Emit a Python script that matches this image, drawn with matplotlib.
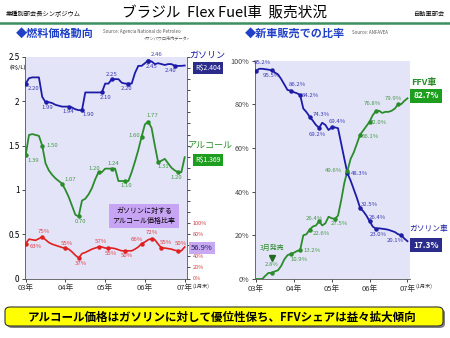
import numpy as np
import matplotlib
matplotlib.use('Agg')
import matplotlib.pyplot as plt
from matplotlib.patches import FancyBboxPatch

plt.rcParams['font.family'] = ['Noto Sans CJK JP', 'DejaVu Sans']

# データ (月: 2003年1月 = 0 ... 2007年1月 = 48)
months = np.arange(49)
year_labels = ['03年', '04年', '05年', '06年', '07年']

gasoline_price = [2.20, 2.26, 2.27, 2.27, 2.27, 2.05, 1.99, 1.99, 1.98, 1.96,
                  1.95, 1.94, 1.94, 1.94, 1.93, 1.91, 1.90, 1.90, 2.10, 2.10,
                  2.10, 2.10, 2.10, 2.10, 2.20, 2.20, 2.25, 2.25, 2.25, 2.21,
                  2.20, 2.20, 2.20, 2.32, 2.40, 2.40, 2.43, 2.46, 2.45, 2.42,
                  2.43, 2.42, 2.41, 2.42, 2.42, 2.40, 2.40, 2.40, 2.404]
alcohol_price = [1.39, 1.62, 1.63, 1.62, 1.61, 1.50, 1.30, 1.22, 1.17, 1.13,
                 1.10, 1.07, 1.00, 0.92, 0.82, 0.72, 0.70, 0.88, 0.90, 0.95,
                 1.02, 1.12, 1.20, 1.20, 1.24, 1.24, 1.24, 1.24, 1.10, 1.10,
                 1.10, 1.10, 1.20, 1.32, 1.45, 1.60, 1.74, 1.77, 1.70, 1.50,
                 1.31, 1.33, 1.35, 1.30, 1.25, 1.22, 1.20, 1.20, 1.369]
price_ratio = [63, 71, 70, 69, 72, 75, 70, 65, 62, 60,
               58, 56, 55, 53, 48, 42, 37, 45, 47, 50,
               53, 55, 57, 57, 55, 55, 55, 54, 52, 50,
               50, 50, 50, 53, 57, 63, 66, 70, 72, 70,
               62, 55, 55, 54, 53, 51, 50, 50, 56.9]

gas_share = [95.2, 96.2, 96.2, 96.0, 95.8, 95.5, 94.5, 93.6, 91.5, 89.0,
             86.5, 86.2, 85.5, 85.0, 84.2, 78.0, 76.4, 74.3, 72.5, 70.5,
             69.2, 71.5, 70.5, 68.2, 69.4, 69.4, 69.0, 62.0, 55.0, 48.3,
             45.0, 41.0, 37.0, 32.5, 31.0, 29.0, 26.4, 24.0, 23.0, 23.2,
             23.0, 22.8, 22.5, 22.0, 21.5, 20.5, 20.1, 18.5, 17.3]
ffv_share = [0, 0, 0, 1.5, 2.8, 2.8, 3.5, 4.0, 6.0, 9.0,
             10.9, 11.5, 12.0, 12.8, 13.2, 20.0, 20.5, 22.6, 24.0, 24.5,
             26.4, 24.5, 25.5, 28.5, 27.8, 27.5, 29.0, 36.0, 44.0, 49.6,
             55.0, 58.0, 62.0, 66.1, 68.0, 70.0, 72.0, 75.0, 76.8, 77.0,
             76.0, 76.5, 76.5, 77.0, 78.0, 79.9, 80.0, 81.5, 82.7]

# ラベル (月, 文字, 位置ずれpx)
gas_labels = [(0, '2.20', 8, -5), (6, '1.99', 2, -5), (13, '1.94', 0, -5),
              (17, '1.90', 6, -4), (23, '2.10', 4, -5), (26, '2.25', 0, 5),
              (31, '2.20', -2, -5), (37, '2.46', 8, 6), (37, '2.45', 3, -6),
              (45, '2.40', -4, -5)]
alc_labels = [(0, '1.39', 8, -5), (5, '1.50', 10, 0), (11, '1.07', 8, 4),
              (16, '0.70', 2, -5), (22, '1.20', -4, 4), (26, '1.24', 2, 5),
              (30, '1.10', 1, -4), (35, '1.60', -7, 1), (37, '1.77', 4, 6),
              (40, '1.31', 5, -4), (46, '1.20', -2, -5)]
ratio_labels = [(0, '63%', 10, -3), (5, '75%', 2, 5), (12, '55%', 2, 5),
                (16, '37%', 2, -5), (22, '57%', 2, 5), (25, '55%', 2, -5),
                (30, '50%', 2, -5), (35, '66%', -5, 4), (38, '72%', 0, 6),
                (41, '55%', 4, 6), (46, '50%', 3, 7)]
gas_share_labels = [(0, '95.2%', 6, 8), (5, '95.5%', 0, -5), (11, '86.2%', 7, 6),
                    (14, '84.2%', 10, 0), (17, '74.3%', 12, 2), (20, '69.2%', -2, -7),
                    (24, '69.4%', 6, 6), (29, '48.3%', 12, 0), (33, '32.5%', 9, 3),
                    (36, '26.4%', 8, 4), (38, '23.0%', 2, -6), (46, '20.1%', -6, -5)]
ffv_labels = [(5, '2.8%', 0, 8), (11, '10.9%', 8, -6), (14, '13.2%', 12, 0),
              (17, '22.6%', 12, -4), (20, '26.4%', -5, 3), (25, '27.5%', 5, -5),
              (29, '49.6%', -14, 0), (33, '66.1%', 10, -2), (36, '72.0%', 9, -1),
              (38, '76.8%', -4, 8), (45, '79.9%', -5, 6)]

W, H = 450, 338
BG = '#E4E4F8'
BLUE = '#1C1CA8'
GREEN = '#2A8C2A'
RED = '#E02020'


def fx(x):
    return x / W


def fy(y):
    return 1 - y / H


def label_points(ax, values, labels, color):
    for m, txt, dx, dy in labels:
        ax.plot(m, values[m], 'o', color=color, ms=2.2, zorder=4)
        ax.annotate(txt, xy=(m, values[m]), xytext=(dx * 0.72, dy * 0.72),
                    textcoords='offset points', ha='center', va='center',
                    fontsize=4.3, color=color, alpha=0.85)


def year_axis(ax):
    ax.set_xticks([0, 12, 24, 36, 48])
    ax.set_xticklabels(year_labels, fontsize=5.5, color='#333333')
    ax.annotate('(1月末)', xy=(48, 0), xycoords=('data', 'axes fraction'),
                xytext=(12, -5.5), textcoords='offset points', fontsize=3.8,
                ha='center', va='center', color='#333333')
    ax.tick_params(axis='x', length=2, width=0.5, pad=2)
    ax.tick_params(axis='y', length=2, width=0.5, pad=2)
    for s in ['left', 'bottom']:
        ax.spines[s].set_color('#555555')
        ax.spines[s].set_linewidth(0.6)
    ax.spines['top'].set_visible(False)


fig = plt.figure(figsize=(4.5, 3.38), dpi=100)
fig.patch.set_facecolor('white')

# ヘッダー
fig.text(fx(6), fy(14), '業種別部会長シンポジウム', fontsize=4.5, va='center')
fig.text(fx(225), fy(13), 'ブラジル  Flex Fuel車  販売状況', fontsize=10.5,
         ha='center', va='center')
fig.text(fx(445), fy(14), '自動車部会', fontsize=4.5, ha='right', va='center')
fig.add_artist(plt.Line2D([0, 1], [fy(23), fy(23)], color='#3A9060', lw=1.8,
                          transform=fig.transFigure))
fig.text(fx(16), fy(33), '◆燃料価格動向', fontsize=8, color='#2040C8',
         weight='bold', style='italic', va='center')
fig.text(fx(103), fy(32), 'Source: Agencia National do Petroleo', fontsize=3.2,
         color='#555555', va='center')
fig.text(fx(190), fy(38), '<サンパウロ市内データ>', fontsize=3, color='#555555',
         ha='right', va='center')
fig.text(fx(245), fy(33), '◆新車販売での比率', fontsize=8, color='#2040C8',
         weight='bold', style='italic', va='center')
fig.text(fx(352), fy(32), 'Source: ANFAVEA', fontsize=3.2, color='#555555',
         va='center')

# 左: 燃料価格
ax = fig.add_axes([fx(25), fy(278.5), (187 - 25) / W, (278.5 - 57) / H])
ax.set_facecolor(BG)
ax.plot(months, gasoline_price, color=BLUE, lw=1.3, zorder=3)
ax.plot(months, alcohol_price, color=GREEN, lw=1.3, zorder=3)
ax.set_xlim(-0.2, 48.7)
ax.set_ylim(0, 2.5)
ax.set_yticks([0, 0.5, 1, 1.5, 2, 2.5])
ax.set_yticklabels(['0', '0.5', '1', '1.5', '2', '2.5'], fontsize=5.8)
year_axis(ax)
ax.spines['right'].set_visible(False)
label_points(ax, gasoline_price, gas_labels, BLUE)
label_points(ax, alcohol_price, alc_labels, GREEN)

# 比率の目盛り (60% は 56.9% の箱に隠れる)
ax2 = ax.twinx()
ax2.plot(months, price_ratio, color=RED, lw=1.2, zorder=3)
ax2.set_ylim(0, 400)
ax2.set_yticks(np.arange(0, 401, 20))
ax2.set_yticklabels([f'{v}%' if v <= 100 and v != 60 else ''
                     for v in range(0, 401, 20)],
                    fontsize=4, color='#D04040')
ax2.tick_params(axis='y', length=2, width=0.5, pad=2)
ax2.spines['right'].set_color('#555555')
ax2.spines['right'].set_linewidth(0.6)
ax2.spines['top'].set_visible(False)
ax2.spines['left'].set_visible(False)
ax2.spines['bottom'].set_visible(False)
label_points(ax2, price_ratio, ratio_labels, RED)

fig.text(fx(10), fy(67), '(R$/L)', fontsize=4.2, ha='left', va='center')
fig.text(fx(189), fy(55), 'ガソリン', fontsize=6.5, color=BLUE, va='center')
fig.text(fx(208), fy(68), 'R$2.404', fontsize=5, color='white', ha='center',
         va='center', bbox=dict(boxstyle='square,pad=0.35', fc='#2B2B8C', ec='none'))
fig.text(fx(188), fy(146), 'アルコール', fontsize=6.5, color=GREEN, va='center')
fig.text(fx(208), fy(160), 'R$1.369', fontsize=5, color='white', ha='center',
         va='center', bbox=dict(boxstyle='square,pad=0.35', fc='#1E9E1E', ec='none'))
fig.text(fx(202), fy(248), '56.9%', fontsize=5.5, color='#222266', ha='center',
         va='center', bbox=dict(boxstyle='square,pad=0.3', fc='#C8A8F0', ec='none'))
fig.text(fx(144), fy(216), 'ガソリンに対する\nアルコール価格比率', fontsize=5,
         ha='center', va='center', linespacing=1.3,
         bbox=dict(boxstyle='square,pad=0.45', fc='#C8A4F4', ec='none'))

# 右: 新車販売比率
bx = fig.add_axes([fx(255), fy(279), (410 - 255) / W, (279 - 60.5) / H])
bx.set_facecolor(BG)
bx.plot(months, gas_share, color=BLUE, lw=1.3, zorder=3)
bx.plot(months, ffv_share, color=GREEN, lw=1.3, zorder=3)
bx.set_xlim(-0.3, 48.8)
bx.set_ylim(0, 100)
bx.set_yticks([0, 20, 40, 60, 80, 100])
bx.set_yticklabels(['0%', '20%', '40%', '60%', '80%', '100%'], fontsize=5.2,
                   color='#444444')
year_axis(bx)
bx.spines['right'].set_visible(False)
label_points(bx, gas_share, gas_share_labels, BLUE)
label_points(bx, ffv_share, ffv_labels, GREEN)
bx.plot(5, 9.8, 'v', color='#1E6E1E', ms=4, zorder=4)
bx.annotate('3月発売', xy=(5, 9.8), xytext=(0, 7), textcoords='offset points',
            ha='center', va='center', fontsize=5, color=GREEN)

fig.text(fx(411), fy(82), 'FFV車', fontsize=6.5, color=GREEN, weight='bold',
         va='center')
fig.text(fx(426), fy(96), '82.7%', fontsize=6, color='white', weight='bold',
         ha='center', va='center',
         bbox=dict(boxstyle='square,pad=0.35', fc='#1E9E1E', ec='none'))
fig.text(fx(409), fy(229), 'ガソリン車', fontsize=5.6, color=BLUE, va='center')
fig.text(fx(426), fy(245), '17.3%', fontsize=6, color='white', weight='bold',
         ha='center', va='center',
         bbox=dict(boxstyle='square,pad=0.35', fc='#2B2B8C', ec='none'))

# 下のまとめ
fig.patches.append(FancyBboxPatch((fx(7), fy(328)), (445 - 7) / W, 19 / H,
                                  boxstyle='round,pad=0,rounding_size=0.012',
                                  transform=fig.transFigure, fc='#808080',
                                  ec='none', zorder=1))
fig.patches.append(FancyBboxPatch((fx(5), fy(326)), (443 - 5) / W, 19 / H,
                                  boxstyle='round,pad=0,rounding_size=0.012',
                                  transform=fig.transFigure, fc='#FFFF00',
                                  ec='#333333', lw=0.8, zorder=2))
fig.text(fx(222), fy(317), 'アルコール価格はガソリンに対して優位性保ち、FFVシェアは益々拡大傾向',
         fontsize=8.3, weight='bold', ha='center', va='center', zorder=3)

fig.savefig('out.png', dpi=100)
